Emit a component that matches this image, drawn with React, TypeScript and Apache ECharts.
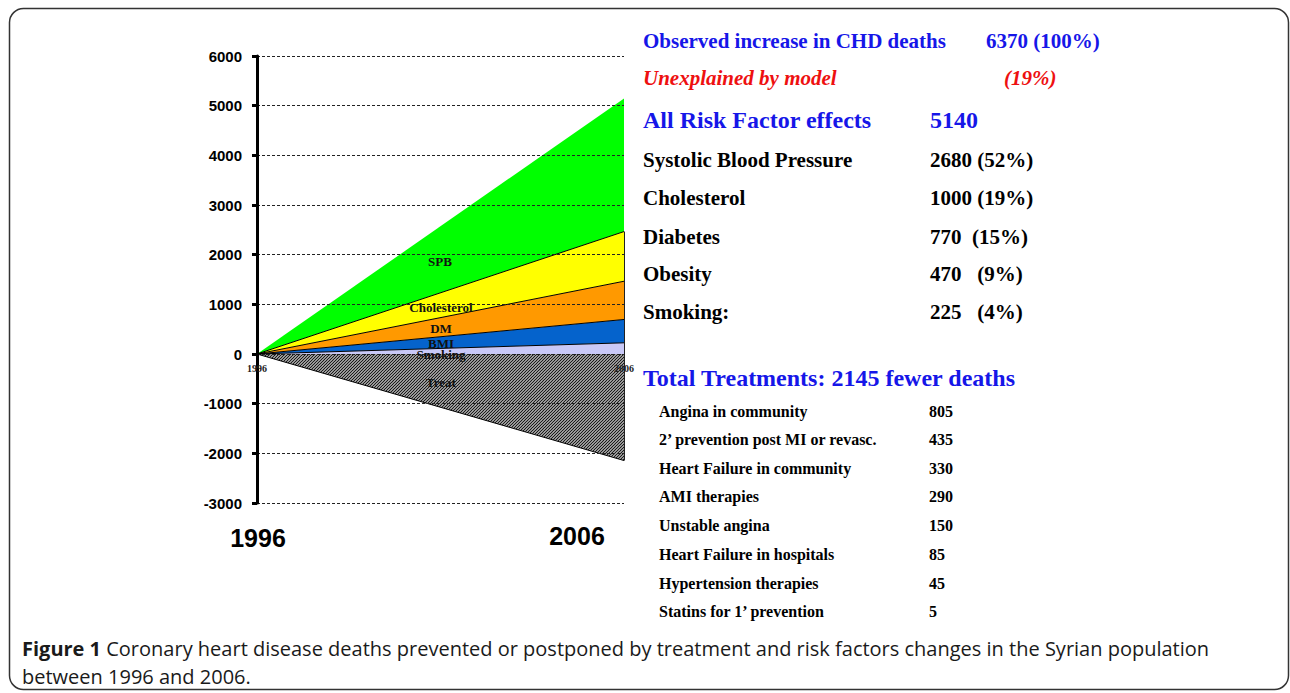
import React, { useEffect, useRef } from "react";
import * as echarts from "echarts";

const years = ["1996", "2006"];
const smoking = [0, 225];
const bmi = [0, 470];
const dm = [0, 770];
const cholesterol = [0, 1000];
const spb = [0, 2680];
const treat = [0, -2145];

const yMin = -3000;
const yMax = 6000;
const yStep = 1000;

const headerRows = [
  { label: "Observed increase in CHD deaths", value: "6370 (100%)" },
  { label: "Unexplained by model", value: "(19%)" },
  { label: "All Risk Factor effects", value: "5140" },
];
const riskLabels = ["Systolic Blood Pressure", "Cholesterol", "Diabetes", "Obesity", "Smoking:"];
const riskValues = ["2680 (52%)", "1000 (19%)", "770  (15%)", "470   (9%)", "225   (4%)"];
const treatmentTitle = "Total Treatments: 2145 fewer deaths";
const treatmentLabels = [
  "Angina in community",
  "2\u2019 prevention post MI or revasc.",
  "Heart Failure in community",
  "AMI therapies",
  "Unstable angina",
  "Heart Failure in hospitals",
  "Hypertension therapies",
  "Statins for 1\u2019 prevention",
];
const treatmentValues = ["805", "435", "330", "290", "150", "85", "45", "5"];
const areaLabels = ["SPB", "Cholesterol", "DM", "BMI", "Smoking", "Treat"];

const captionLine1 =
  "Coronary heart disease deaths prevented or postponed by treatment and risk factors changes in the Syrian population";
const captionLine2 = "between 1996 and 2006.";

const SERIF = '"Liberation Serif", "Times New Roman", serif';
const SANS = '"Liberation Sans", Arial, sans-serif';

function makeHatch() {
  const s = 3;
  const c = document.createElement("canvas");
  c.width = s;
  c.height = s;
  const ctx = c.getContext("2d")!;
  ctx.fillStyle = "#ffffff";
  ctx.fillRect(0, 0, s, s);
  ctx.strokeStyle = "#1a1a1a";
  ctx.lineWidth = 1.3;
  ctx.beginPath();
  ctx.moveTo(-1, s + 1);
  ctx.lineTo(s + 1, -1);
  ctx.moveTo(-1, 1);
  ctx.lineTo(1, -1);
  ctx.moveTo(s - 1, s + 1);
  ctx.lineTo(s + 1, s - 1);
  ctx.stroke();
  return c;
}

export default function App() {
  const ref = useRef<HTMLDivElement>(null);
  useEffect(() => {
    document.body.style.margin = "0";
    const chart = echarts.init(ref.current!, undefined, { renderer: "svg" });
    const hatch = makeHatch();
    const posTop = smoking[1] + bmi[1] + dm[1] + cholesterol[1];

    const areaSeries = (name: string, data: number[], color: any, stack: string, lineW = 1) => ({
      name,
      type: "line",
      stack,
      data,
      symbol: "none",
      silent: true,
      lineStyle: { color: "#000", width: lineW },
      areaStyle: { color, opacity: 1 },
    });

    const graphics: any[] = [];
    graphics.push({
      type: "rect",
      shape: { x: 9.5, y: 8.5, width: 1279, height: 681, r: 14 },
      style: { fill: "none", stroke: "#333", lineWidth: 1.5 },
      silent: true,
    });

    const txt = (text: string, x: number, y: number, font: string, fill = "#000", align = "left") => ({
      type: "text",
      x,
      y,
      z: 100,
      silent: true,
      style: { text, font, fill, textAlign: align, textVerticalAlign: "middle" },
    });

    // header rows
    const blue = "#1616e8";
    const red = "#ee1010";
    graphics.push(txt(headerRows[0].label, 643, 41, `bold 21px ${SERIF}`, blue));
    graphics.push(txt(headerRows[0].value, 986, 41, `bold 21px ${SERIF}`, blue));
    graphics.push(txt(headerRows[1].label, 643, 78, `italic bold 21px ${SERIF}`, red));
    graphics.push(txt(headerRows[1].value, 1004, 78, `italic bold 21px ${SERIF}`, red));
    graphics.push(txt(headerRows[2].label, 643, 120, `bold 24px ${SERIF}`, blue));
    graphics.push(txt(headerRows[2].value, 930, 120, `bold 24px ${SERIF}`, blue));

    const riskY = [160, 198, 237, 274, 312];
    riskLabels.forEach((l, i) => {
      graphics.push(txt(l, 643, riskY[i], `bold 21px ${SERIF}`));
      graphics.push(txt(riskValues[i], 930, riskY[i], `bold 21px ${SERIF}`));
    });

    graphics.push(txt(treatmentTitle, 643, 378, `bold 24px ${SERIF}`, blue));
    const trY = [411, 439, 468, 496, 525, 554, 583, 611];
    treatmentLabels.forEach((l, i) => {
      graphics.push(txt(l, 659, trY[i], `bold 16px ${SERIF}`));
      graphics.push(txt(treatmentValues[i], 929, trY[i], `bold 16px ${SERIF}`));
    });

    // area labels
    const alPos = [
      [440, 261],
      [441, 307],
      [441, 328],
      [441, 343],
      [441, 354],
      [441, 382],
    ];
    areaLabels.forEach((l, i) => {
      graphics.push(txt(l, alPos[i][0], alPos[i][1], `bold 13px ${SERIF}`, "#111", "center"));
    });

    // big year labels
    graphics.push(txt(years[0], 258, 538, `bold 25px ${SANS}`, "#000", "center"));
    graphics.push(txt(years[1], 577, 536, `bold 25px ${SANS}`, "#000", "center"));

    // caption
    const capFont = `20px "Open Sans", sans-serif`;
    graphics.push({
      type: "text",
      x: 22,
      y: 648,
      z: 100,
      silent: true,
      style: {
        text: `{b|Figure 1} ${captionLine1}`,
        font: capFont,
        fill: "#1a1a1a",
        textVerticalAlign: "middle",
        rich: { b: { font: `bold 20px "Open Sans", sans-serif`, fill: "#1a1a1a" } },
      },
    });
    graphics.push(txt(captionLine2, 22, 676, capFont, "#1a1a1a"));

    chart.setOption({
      animation: false,
      grid: { left: 257, right: 666, top: 56, bottom: 190 },
      xAxis: {
        type: "category",
        data: years,
        boundaryGap: false,
        offset: -149,
        z: 20,
        axisLine: { show: false, onZero: false },
        axisTick: { show: false },
        axisLabel: {
          color: "#222",
          fontFamily: SERIF,
          fontSize: 10,
          fontWeight: "bold",
          margin: 9,
        },
        splitLine: { show: false },
      },
      yAxis: {
        type: "value",
        min: yMin,
        max: yMax,
        interval: yStep,
        z: 20,
        axisLine: { show: true, lineStyle: { color: "#000", width: 3 } },
        axisTick: { show: true, length: 5, lineStyle: { color: "#000", width: 3 } },
        axisLabel: {
          color: "#000",
          fontFamily: SANS,
          fontWeight: "bold",
          fontSize: 15,
          margin: 15,
          formatter: (v: number) => String(v),
        },
        splitLine: {
          show: true,
          lineStyle: { color: "#222", width: 1, type: [3, 2] },
        },
      },
      series: [
        areaSeries("Smoking", smoking, "#c9c9f7", "pos"),
        areaSeries("BMI", bmi, "#0563cc", "pos"),
        areaSeries("DM", dm, "#ff9900", "pos"),
        areaSeries("Cholesterol", cholesterol, "#ffff00", "pos"),
        areaSeries("SPB", spb, "#00ff00", "pos", 0),
        {
          ...areaSeries(
            "Treat",
            treat,
            { image: hatch, repeat: "repeat", imageWidth: 3, imageHeight: 3 },
            "neg"
          ),
          markLine: {
            silent: true,
            symbol: "none",
            label: { show: false },
            lineStyle: { color: "#222", width: 1, type: "solid" },
            data: [[{ coord: [years[1], treat[1]] }, { coord: [years[1], posTop] }]],
          },
        },
      ],
      graphic: graphics,
    });
    return () => chart.dispose();
  }, []);
  return (
    <div
      ref={ref}
      style={{ position: "absolute", left: 0, top: 0, width: 1290, height: 693, background: "#fff" }}
    />
  );
}
